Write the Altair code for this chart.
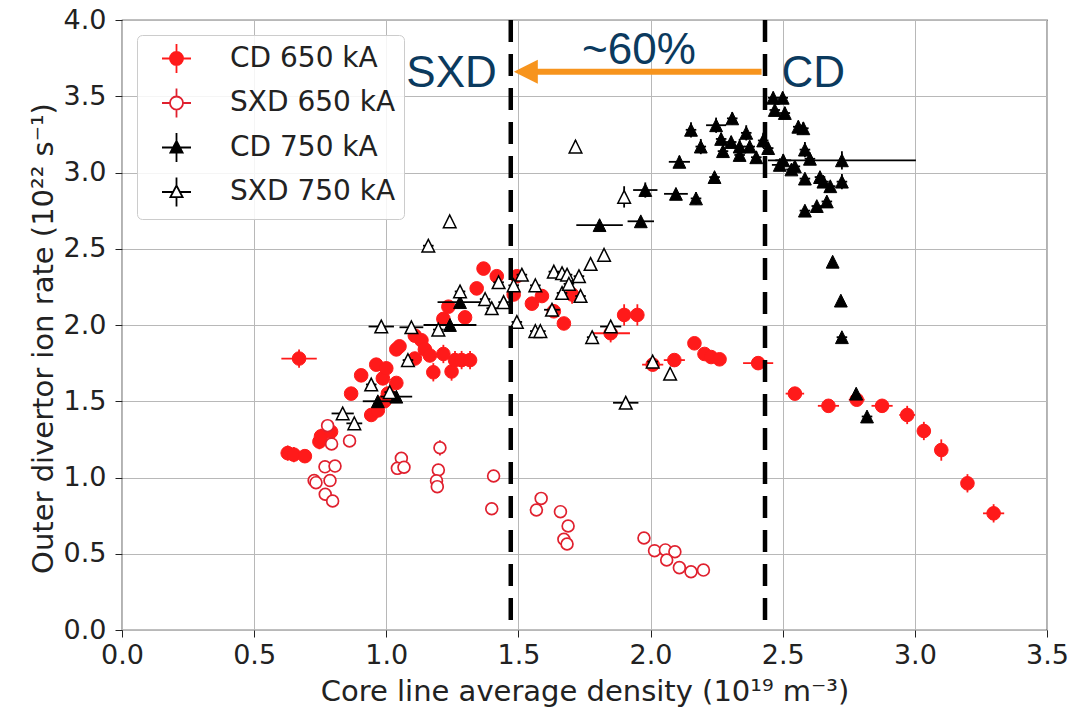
import altair as alt
import pandas as pd

# ---------------- data ----------------
cd650_x = [0.670, 0.627, 0.650, 0.692, 0.747, 0.753, 0.791, 0.867, 0.905, 0.943, 0.962, 0.968, 0.987, 0.993,
           1.000, 1.006, 1.038, 1.038, 1.050, 1.108, 1.108, 1.133, 1.146, 1.165, 1.178, 1.216, 1.216, 1.235,
           1.247, 1.260, 1.285, 1.298, 1.317, 1.342, 1.368, 1.418, 1.482, 1.494, 1.551, 1.589, 1.634, 1.672,
           1.703, 1.849, 1.900, 1.950, 2.008, 2.090, 2.166, 2.204, 2.229, 2.261, 2.407, 2.546, 2.673, 2.780,
           2.876, 2.971, 3.034, 3.100, 3.199, 3.298]
cd650_y = [1.78, 1.16, 1.15, 1.14, 1.235, 1.27, 1.30, 1.55, 1.67, 1.41, 1.74, 1.44, 1.65, 1.50,
           1.716, 1.55, 1.62, 1.84, 1.86, 1.93, 1.78, 1.90, 1.84, 1.80, 1.69, 1.81, 2.04, 2.12,
           1.695, 1.77, 1.77, 2.05, 1.77, 2.24, 2.37, 2.32, 2.20, 2.32, 2.14, 2.19, 2.09, 2.01,
           2.20, 1.946, 2.066, 2.066, 1.74, 1.77, 1.88, 1.81, 1.79, 1.775, 1.75, 1.55, 1.47, 1.51,
           1.47, 1.41, 1.305, 1.18, 0.962, 0.765]
cd650_xerr = [0.067, 0.02, 0.02, 0.02, 0.02, 0.02, 0.02, 0.02, 0.02, 0.02, 0.02, 0.02, 0.02, 0.02,
              0.02, 0.02, 0.02, 0.02, 0.02, 0.02, 0.02, 0.02, 0.02, 0.02, 0.02, 0.02, 0.02, 0.02,
              0.02, 0.02, 0.02, 0.02, 0.02, 0.02, 0.02, 0.02, 0.02, 0.02, 0.02, 0.02, 0.02, 0.02,
              0.02, 0.073, 0.02, 0.02, 0.04, 0.04, 0.02, 0.02, 0.02, 0.02, 0.057, 0.035, 0.04, 0.03,
              0.04, 0.03, 0.02, 0.02, 0.02, 0.04]
cd650_yerr = [0.06, 0.05, 0.05, 0.04, 0.05, 0.05, 0.05, 0.04, 0.04, 0.04, 0.04, 0.04, 0.04, 0.04,
              0.04, 0.04, 0.04, 0.04, 0.04, 0.04, 0.04, 0.04, 0.04, 0.04, 0.06, 0.06, 0.04, 0.04,
              0.06, 0.06, 0.06, 0.04, 0.06, 0.04, 0.04, 0.04, 0.04, 0.04, 0.04, 0.04, 0.04, 0.04,
              0.06, 0.06, 0.07, 0.07, 0.04, 0.04, 0.04, 0.04, 0.04, 0.04, 0.04, 0.04, 0.03, 0.04,
              0.04, 0.06, 0.06, 0.07, 0.06, 0.06]

sxd650_x = [0.778, 0.793, 0.861, 0.768, 0.806, 0.727, 0.734, 0.787, 0.769, 0.797, 1.057, 1.042, 1.067,
            1.203, 1.197, 1.190, 1.193, 1.406, 1.399, 1.586, 1.568, 1.659, 1.688, 1.672, 1.684, 1.975,
            2.015, 2.056, 2.092, 2.061, 2.109, 2.153, 2.200]
sxd650_y = [1.34, 1.22, 1.24, 1.07, 1.075, 0.98, 0.966, 0.98, 0.89, 0.846, 1.126, 1.06, 1.067,
            1.195, 1.049, 0.979, 0.94, 1.01, 0.795, 0.863, 0.787, 0.776, 0.682, 0.595, 0.564, 0.603,
            0.52, 0.525, 0.513, 0.459, 0.409, 0.382, 0.393]
sxd650_yerr = [0.04, 0.04, 0.04, 0.04, 0.04, 0.04, 0.04, 0.04, 0.04, 0.04, 0.04, 0.04, 0.04,
               0.05, 0.04, 0.04, 0.04, 0.04, 0.03, 0.04, 0.03, 0.03, 0.03, 0.03, 0.03, 0.03,
               0.03, 0.03, 0.03, 0.03, 0.03, 0.03, 0.03]

cd750_x = [0.968, 1.038, 1.241, 1.279, 1.807, 1.963, 1.980, 2.096, 2.109, 2.153, 2.172, 2.190, 2.242,
           2.248, 2.267, 2.274, 2.305, 2.309, 2.337, 2.337, 2.362, 2.375, 2.400, 2.426, 2.445, 2.464,
           2.470, 2.489, 2.500, 2.502, 2.508, 2.533, 2.546, 2.559, 2.578, 2.584, 2.584, 2.584, 2.603,
           2.629, 2.641, 2.654, 2.667, 2.680, 2.689, 2.720, 2.724, 2.724, 2.724, 2.778, 2.819]
cd750_y = [1.50, 1.53, 2.00, 2.15, 2.655, 2.68, 2.885, 2.86, 3.07, 3.28, 2.83, 3.17, 2.97,
           3.31, 3.22, 3.14, 3.20, 3.355, 3.115, 3.17, 3.26, 3.17, 3.10, 3.21, 3.16, 3.49,
           3.41, 3.05, 3.49, 3.08, 3.39, 3.02, 3.04, 3.30, 3.29, 3.15, 2.96, 2.75, 3.09,
           2.78, 2.97, 2.94, 2.81, 2.91, 2.415, 2.16, 1.92, 2.94, 3.08, 1.55, 1.40]
cd750_xerr = [0.057, 0.06, 0.10, 0.085, 0.088, 0.05, 0.046, 0.045, 0.04, 0.02, 0.02, 0.02, 0.02,
              0.038, 0.02, 0.02, 0.02, 0.02, 0.02, 0.02, 0.02, 0.02, 0.02, 0.02, 0.02, 0.02,
              0.02, 0.03, 0.02, 0.03, 0.02, 0.02, 0.02, 0.02, 0.02, 0.02, 0.02, 0.02, 0.02,
              0.02, 0.02, 0.02, 0.02, 0.02, 0.01, 0.01, 0.02, 0.02, 0.28, 0.01, 0.02]
cd750_yerr = [0.03, 0.03, 0.03, 0.03, 0.03, 0.03, 0.05, 0.03, 0.04, 0.05, 0.04, 0.05, 0.03,
              0.05, 0.04, 0.04, 0.04, 0.04, 0.04, 0.05, 0.05, 0.04, 0.04, 0.05, 0.04, 0.04,
              0.04, 0.04, 0.04, 0.04, 0.04, 0.03, 0.03, 0.04, 0.04, 0.05, 0.03, 0.03, 0.04,
              0.03, 0.03, 0.03, 0.03, 0.03, 0.03, 0.03, 0.02, 0.05, 0.06, 0.03, 0.02]

sxd750_x = [0.835, 0.879, 0.943, 0.981, 1.013, 1.082, 1.095, 1.159, 1.197, 1.240, 1.279, 1.374, 1.399,
            1.425, 1.444, 1.482, 1.494, 1.513, 1.564, 1.564, 1.583, 1.627, 1.634, 1.665, 1.665, 1.684,
            1.691, 1.716, 1.729, 1.735, 1.773, 1.779, 1.824, 1.849, 1.900, 1.906, 2.008, 2.074]
sxd750_y = [1.42, 1.355, 1.61, 1.99, 1.56, 1.77, 1.985, 2.52, 1.97, 2.68, 2.22, 2.17, 2.11,
            2.28, 2.15, 2.26, 2.02, 2.33, 2.26, 1.96, 1.96, 2.10, 2.35, 2.34, 2.21, 2.33,
            2.27, 3.17, 2.32, 2.19, 2.40, 1.92, 2.46, 1.99, 2.84, 1.49, 1.76, 1.68]
sxd750_xerr = [0.042, 0.03, 0.02, 0.048, 0.02, 0.02, 0.045, 0.02, 0.02, 0.01, 0.02, 0.02, 0.02,
               0.02, 0.02, 0.02, 0.02, 0.02, 0.02, 0.02, 0.02, 0.03, 0.02, 0.02, 0.02, 0.02,
               0.02, 0.01, 0.02, 0.02, 0.01, 0.02, 0.01, 0.04, 0.01, 0.048, 0.02, 0.01]
sxd750_yerr = [0.03, 0.03, 0.03, 0.03, 0.03, 0.03, 0.03, 0.03, 0.03, 0.03, 0.03, 0.03, 0.03,
               0.03, 0.03, 0.03, 0.03, 0.03, 0.03, 0.03, 0.03, 0.03, 0.03, 0.03, 0.03, 0.03,
               0.03, 0.04, 0.03, 0.03, 0.03, 0.03, 0.03, 0.03, 0.07, 0.03, 0.03, 0.03]

series_names = ["CD 650 kA", "SXD 650 kA", "CD 750 kA", "SXD 750 kA"]

# annotation values
vline_x = [1.471, 2.433]
arrow_from = [2.42]
arrow_to = [1.545]
arrow_tip = [1.528]
arrow_y = [3.66]
label_text = ["SXD", "CD", "~60%"]
label_x = [1.247, 2.616, 1.956]
label_y = [3.643, 3.643, 3.80]

# ---------------- styling ----------------
RED = "#ff1a1a"
RED_OPEN = "#e0202e"
BLACK = "#000000"
ORANGE = "#f7941d"
NAVY = "#0b3a5e"
TRI = "M0,-1L1,1L-1,1Z"

xscale = alt.Scale(domain=[0, 3.5], nice=False, zero=False)
yscale = alt.Scale(domain=[0, 4.0], nice=False, zero=False)
xaxis = alt.Axis(title="Core line average density (10¹⁹ m⁻³)",
                 values=[0, 0.5, 1.0, 1.5, 2.0, 2.5, 3.0, 3.5], format=".1f")
yaxis = alt.Axis(title="Outer divertor ion rate (10²² s⁻¹)",
                 values=[0, 0.5, 1.0, 1.5, 2.0, 2.5, 3.0, 3.5, 4.0], format=".1f",
                 titleY=318)

# legend symbols: marker plus error-bar cross (drawn outside the marker)
LEG_CIRCLE = ("M-0.45,0A0.45,0.45,0,1,1,0.45,0A0.45,0.45,0,1,1,-0.45,0Z "
              "M-1,0L-0.45,0 M0.45,0L1,0 M0,-1L0,-0.45 M0,0.45L0,1")
LEG_TRI = ("M0,-0.45L0.42,0.35L-0.42,0.35Z "
           "M-1,0L-0.24,0 M0.24,0L1,0 M0,-1L0,-0.45 M0,0.35L0,1")

legend = alt.Legend(
    title=None, orient="none", legendX=15, legendY=15,
    labelFont="DejaVu Sans", labelFontSize=28, labelColor="#222222", labelLimit=400,
    labelOffset=38, symbolSize=841, symbolOffset=16, rowPadding=7.5, padding=8,
    strokeColor="#cccccc", cornerRadius=5, fillColor="rgba(255,255,255,0.85)",
    symbolStrokeWidth=1.8, symbolOpacity=1,
)


def series_layers(xs, ys, xe, ye, line_color, fill, stroke, shape, size, sw):
    df = pd.DataFrame({"x": xs, "y": ys, "xerr": xe, "yerr": ye})
    base = alt.Chart(df)
    xbar = base.transform_calculate(
        xa="datum.x - datum.xerr", xb="datum.x + datum.xerr"
    ).mark_rule(color=line_color, strokeWidth=1.8).encode(
        x=alt.X("xa:Q", scale=xscale, axis=xaxis), x2="xb:Q",
        y=alt.Y("y:Q", scale=yscale, axis=yaxis))
    ybar = base.transform_calculate(
        ya="datum.y - datum.yerr", yb="datum.y + datum.yerr"
    ).mark_rule(color=line_color, strokeWidth=1.8).encode(
        x=alt.X("x:Q", scale=xscale, axis=xaxis),
        y=alt.Y("ya:Q", scale=yscale, axis=yaxis), y2="yb:Q")
    pts = base.mark_point(shape=shape, fill=fill, stroke=stroke, fillOpacity=1, strokeOpacity=1,
                          opacity=1, strokeWidth=sw, size=size).encode(
        x=alt.X("x:Q", scale=xscale, axis=xaxis),
        y=alt.Y("y:Q", scale=yscale, axis=yaxis))
    return [xbar, ybar, pts]


layers = []
layers += series_layers(cd650_x, cd650_y, cd650_xerr, cd650_yerr,
                        RED, RED, RED, "circle", 185, 1)
layers += series_layers(sxd650_x, sxd650_y, [0.0] * len(sxd650_x), sxd650_yerr,
                        RED_OPEN, "#ffffff", RED_OPEN, "circle", 140, 1.7)
layers += series_layers(cd750_x, cd750_y, cd750_xerr, cd750_yerr,
                        BLACK, BLACK, BLACK, TRI, 165, 1)
layers += series_layers(sxd750_x, sxd750_y, sxd750_xerr, sxd750_yerr,
                        BLACK, "#ffffff", BLACK, TRI, 160, 1.5)

# legend carrier: points placed outside the clipped plot, only to build the legend
leg_df = pd.DataFrame({"series": series_names, "x": [-1.0] * 4, "y": [-1.0] * 4})
leg_layer = alt.Chart(leg_df).mark_point(clip=True, filled=True, opacity=1, strokeWidth=1.8).encode(
    x=alt.X("x:Q", scale=xscale, axis=xaxis),
    y=alt.Y("y:Q", scale=yscale, axis=yaxis),
    shape=alt.Shape("series:N", scale=alt.Scale(domain=series_names,
                                                range=[LEG_CIRCLE, LEG_CIRCLE, LEG_TRI, LEG_TRI]),
                    legend=legend),
    fill=alt.Fill("series:N", scale=alt.Scale(domain=series_names,
                                              range=[RED, "#ffffff", BLACK, "#ffffff"]),
                  legend=legend),
    stroke=alt.Stroke("series:N", scale=alt.Scale(domain=series_names,
                                                  range=[RED, RED_OPEN, BLACK, BLACK]),
                      legend=legend),
)

vlines = alt.Chart(pd.DataFrame({"x": vline_x})).mark_rule(
    color="black", strokeWidth=4.5, strokeDash=[22, 12]).encode(
    x=alt.X("x:Q", scale=xscale, axis=xaxis))

arrow_df = pd.DataFrame({"xa": arrow_from, "xb": arrow_to, "xt": arrow_tip, "y": arrow_y})
shaft = alt.Chart(arrow_df).mark_rule(color=ORANGE, strokeWidth=6).encode(
    x=alt.X("xa:Q", scale=xscale, axis=xaxis), x2="xb:Q",
    y=alt.Y("y:Q", scale=yscale, axis=yaxis))
head = alt.Chart(arrow_df).mark_point(
    shape="M-1,0L1,-1L1,1Z", size=576, fill=ORANGE, fillOpacity=1, strokeWidth=0, opacity=1).encode(
    x=alt.X("xt:Q", scale=xscale, axis=xaxis),
    y=alt.Y("y:Q", scale=yscale, axis=yaxis))

labels = alt.Chart(pd.DataFrame({"t": label_text, "x": label_x, "y": label_y})).mark_text(
    font="Liberation Sans", fontSize=44, color=NAVY, align="center", baseline="middle").encode(
    x=alt.X("x:Q", scale=xscale, axis=xaxis),
    y=alt.Y("y:Q", scale=yscale, axis=yaxis),
    text="t:N")

layers += [vlines, shaft, head, labels, leg_layer]

chart = alt.layer(*layers).properties(
    width=925, height=610,
    autosize=alt.AutoSizeParams(type="none"),
    padding={"left": 122, "top": 20, "right": 24, "bottom": 84},
    background="white",
).configure_view(
    stroke="black", strokeWidth=1.2
).configure_axis(
    domain=False, grid=True, gridColor="#b8b8b8", gridWidth=1, labelFlush=False,
    ticks=True, tickColor="#222222", tickSize=7, tickWidth=1,
    labelFont="DejaVu Sans", labelFontSize=27, labelColor="#222222",
    titleFont="DejaVu Sans", titleFontSize=29, titleColor="#222222", titleFontWeight="normal",
).configure_axisX(labelPadding=5, titlePadding=9).configure_axisY(labelPadding=9, titlePadding=5)

chart.save("out.html", embed_options={"renderer": "svg", "actions": False})
